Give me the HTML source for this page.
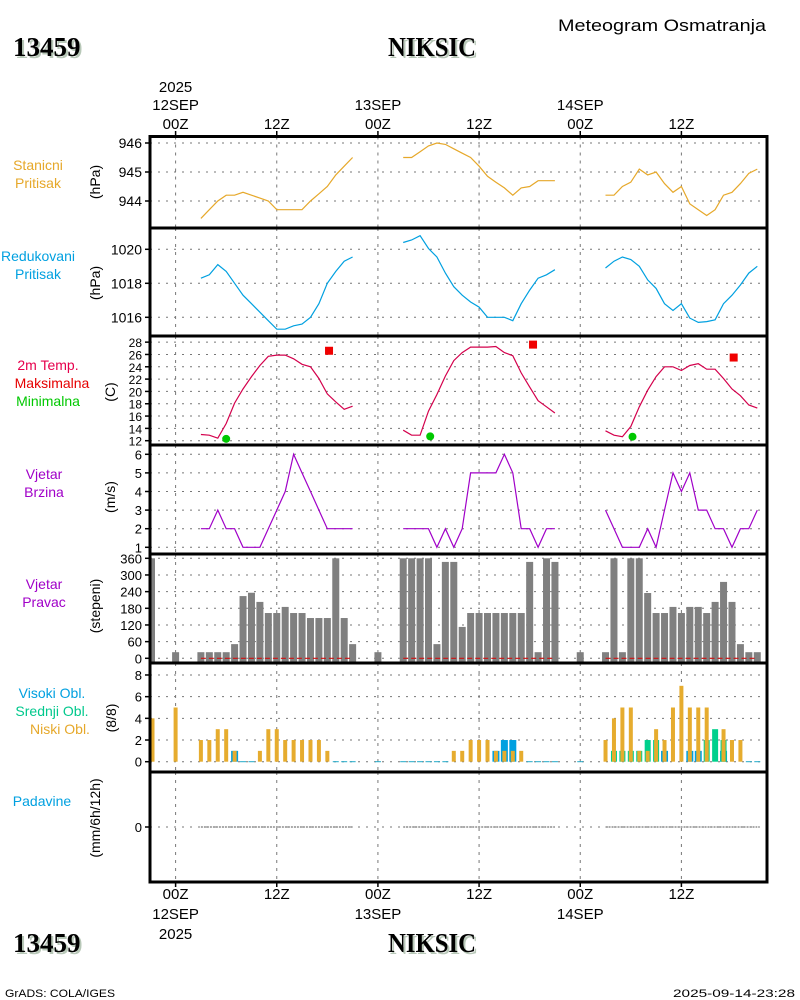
<!DOCTYPE html>
<html><head><meta charset="utf-8"><style>
html,body{margin:0;padding:0;background:#fff;width:800px;height:1000px;overflow:hidden}
svg{display:block}
text{font-family:"Liberation Sans",sans-serif}
</style></head><body>
<svg id="chart" width="800" height="1000" viewBox="0 0 800 1000" xmlns="http://www.w3.org/2000/svg">
<g id="static">
<text x="766" y="31" font-size="17" text-anchor="end" textLength="208" lengthAdjust="spacingAndGlyphs">Meteogram Osmatranja</text>
<text x="15" y="58" font-size="27" font-weight="bold" fill="#b8c8b8" style="font-family:'Liberation Serif',serif">13459</text>
<text x="13" y="56" font-size="27" font-weight="bold" style="font-family:'Liberation Serif',serif">13459</text>
<text x="434" y="58" font-size="27" font-weight="bold" fill="#b8c8b8" text-anchor="middle" style="font-family:'Liberation Serif',serif" textLength="88" lengthAdjust="spacingAndGlyphs">NIKSIC</text>
<text x="432" y="56" font-size="27" font-weight="bold" text-anchor="middle" style="font-family:'Liberation Serif',serif" textLength="88" lengthAdjust="spacingAndGlyphs">NIKSIC</text>
<text x="15" y="954" font-size="27" font-weight="bold" fill="#b8c8b8" style="font-family:'Liberation Serif',serif">13459</text>
<text x="13" y="952" font-size="27" font-weight="bold" style="font-family:'Liberation Serif',serif">13459</text>
<text x="434" y="954" font-size="27" font-weight="bold" fill="#b8c8b8" text-anchor="middle" style="font-family:'Liberation Serif',serif" textLength="88" lengthAdjust="spacingAndGlyphs">NIKSIC</text>
<text x="432" y="952" font-size="27" font-weight="bold" text-anchor="middle" style="font-family:'Liberation Serif',serif" textLength="88" lengthAdjust="spacingAndGlyphs">NIKSIC</text>
<text x="5" y="997" font-size="11" textLength="110" lengthAdjust="spacingAndGlyphs">GrADS: COLA/IGES</text>
<text x="795" y="997" font-size="11" text-anchor="end" textLength="122" lengthAdjust="spacingAndGlyphs">2025-09-14-23:28</text>
<g font-size="14" text-anchor="middle">
<text x="38" y="170" fill="#e6a82a">Stanicni</text>
<text x="38" y="188" fill="#e6a82a">Pritisak</text>
<text x="38" y="261" fill="#00a0e0">Redukovani</text>
<text x="38" y="279" fill="#00a0e0">Pritisak</text>
<text x="48" y="370" fill="#e6004c">2m Temp.</text>
<text x="52" y="388" fill="#e60000">Maksimalna</text>
<text x="48" y="406" fill="#00c800">Minimalna</text>
<text x="44" y="479" fill="#a000c8">Vjetar</text>
<text x="44" y="497" fill="#a000c8">Brzina</text>
<text x="44" y="589" fill="#a000c8">Vjetar</text>
<text x="44" y="607" fill="#a000c8">Pravac</text>
<text x="52" y="698" fill="#00a0e0">Visoki Obl.</text>
<text x="52" y="716" fill="#00c88c">Srednji Obl.</text>
<text x="60" y="734" fill="#e6a82a">Niski Obl.</text>
<text x="42" y="806" fill="#00a0e0">Padavine</text>
</g>
<g font-size="14" text-anchor="middle">
<text transform="translate(100,182) rotate(-90)">(hPa)</text>
<text transform="translate(100,283) rotate(-90)">(hPa)</text>
<text transform="translate(115,392) rotate(-90)">(C)</text>
<text transform="translate(115,497) rotate(-90)">(m/s)</text>
<text transform="translate(100,606) rotate(-90)">(stepeni)</text>
<text transform="translate(116,718) rotate(-90)">(8/8)</text>
<text transform="translate(100,818) rotate(-90)">(mm/6h/12h)</text>
</g>
</g>
<g id="grid"></g>
<g id="marks"></g>
<g id="axes"></g>
</svg>
<script>
// hours from 2025-09-12 00Z
const timeTicks = [0, 12, 24, 36, 48, 60];
const timeTopLabels = [["2025","12SEP","00Z"],["","","12Z"],["","13SEP","00Z"],["","","12Z"],["","14SEP","00Z"],["","","12Z"]];
const timeBottomLabels = [["00Z","12SEP","2025"],["12Z","",""],["00Z","13SEP",""],["12Z","",""],["00Z","14SEP",""],["12Z","",""]];
const segStarts = [3, 27, 51];
const segLength = 19;
const stnPres1 = [943.4,943.7,944.0,944.2,944.2,944.3,944.2,944.1,944.0,943.7,943.7,943.7,943.7,944.0,944.25,944.5,944.9,945.2,945.5];
const stnPres2 = [945.5,945.5,945.7,945.9,946.0,945.95,945.8,945.65,945.5,945.2,944.85,944.65,944.45,944.2,944.45,944.5,944.7,944.7,944.7];
const stnPres3 = [944.2,944.2,944.5,944.65,945.1,944.9,945.0,944.6,944.3,944.5,943.9,943.7,943.5,943.7,944.2,944.3,944.6,944.95,945.1];
const redPres1 = [1018.3,1018.5,1019.1,1018.7,1018.0,1017.3,1016.8,1016.3,1015.8,1015.3,1015.3,1015.5,1015.6,1016.0,1016.8,1018.0,1018.7,1019.3,1019.55];
const redPres2 = [1020.4,1020.55,1020.8,1020.05,1019.55,1018.6,1017.8,1017.3,1016.9,1016.6,1016.0,1016.0,1016.0,1015.8,1016.8,1017.6,1018.3,1018.5,1018.8];
const redPres3 = [1018.9,1019.3,1019.55,1019.4,1019.0,1018.2,1017.7,1016.8,1016.4,1016.8,1015.95,1015.7,1015.75,1015.85,1016.8,1017.3,1017.9,1018.6,1019.0];
const temp1 = [13.0,12.9,12.4,14.8,18.1,20.4,22.4,24.2,25.7,25.9,25.9,25.3,24.4,24.0,22.1,19.6,18.3,17.1,17.6];
const temp2 = [13.7,12.9,12.9,16.8,19.5,22.5,25.0,26.3,27.2,27.2,27.2,27.3,26.3,25.8,23.0,20.7,18.5,17.5,16.5];
const temp3 = [13.6,12.9,12.65,14.3,17.5,20.2,22.4,24.0,24.0,23.4,24.2,24.5,23.6,23.6,22.1,20.4,19.3,17.8,17.3];
const tmaxHours = [18.2, 42.4, 66.2];
const tmaxValues = [26.6, 27.6, 25.5];
const tminHours = [6, 30.2, 54.2];
const tminValues = [12.3, 12.7, 12.65];
const wspd1 = [2,2,3,2,2,1,1,1,2,3,4,6,5,4,3,2,2,2,2];
const wspd2 = [2,2,2,2,1,2,1,2,5,5,5,5,6,5,2,2,1,2,2];
const wspd3 = [3,2,1,1,1,2,1,3,5,4,5,3,3,2,2,1,2,2,3];
const wdirHours = [-3,0,3,4,5,6,7,8,9,10,11,12,13,14,15,16,17,18,19,20,21,24,27,28,29,30,31,32,33,34,35,36,37,38,39,40,41,42,43,44,45,48,51,52,53,54,55,56,57,58,59,60,61,62,63,64,65,66,67,68,69];
const wdirValues = [360,22,22,22,22,22,51,224,236,203,163,163,185,163,163,145,145,145,360,145,51,22,360,360,360,360,51,347,347,113,163,163,163,163,163,163,163,347,22,360,347,22,22,360,22,360,360,235,163,163,185,163,185,185,163,203,275,203,51,22,22];
const cloudHours = [-3,0,3,4,5,6,7,8,9,10,11,12,13,14,15,16,17,18,19,20,21,24,27,28,29,30,31,32,33,34,35,36,37,38,39,40,41,42,43,44,45,48,51,52,53,54,55,56,57,58,59,60,61,62,63,64,65,66,67,68,69];
const cloudLow  = [4,5,2,2,3,3,1,0,0,1,3,3,2,2,2,2,2,1,0,0,0,0,0,0,0,0,0,0,1,1,2,2,2,1,1,1,1,0,0,0,0,0,2,4,5,5,1,1,3,2,5,7,5,5,5,0,3,2,2,0,0];
const cloudMid  = [0,0,0,0,0,0,0,0,0,0,0,0,0,0,0,0,0,0,0,0,0,0,0,0,0,0,0,0,0,0,0,0,0,0,0,0,0,0,0,0,0,0,0,1,1,1,1,2,2,0,0,0,0,0,2,3,2,0,0,0,0];
const cloudHigh = [0,0,0,0,0,0,1,0,0,0,0,0,0,0,0,0,0,0,0,0,0,0,0,0,0,0,0,0,0,0,0,0,0,1,2,2,0,0,0,0,0,0,0,0,0,0,0,0,0,1,0,0,1,1,0,0,1,0,0,0,0];
const precipValues = [0,0,0];

const NS = "http://www.w3.org/2000/svg";
const L = 150, R = 767;
function X(h){ return 175.6 + h * 8.43; }
function mk(parent, tag, attrs){ const e = document.createElementNS(NS, tag); for (const k in attrs) e.setAttribute(k, attrs[k]); parent.appendChild(e); return e; }
const grid = document.getElementById('grid'), marks = document.getElementById('marks'), axes = document.getElementById('axes');

const panels = [
  {top:136.5, bot:228, y:v=>143+(946-v)*29, ticks:[946,945,944], fs:14},
  {top:228, bot:336, y:v=>249.3+(1020-v)*17, ticks:[1020,1018,1016], fs:14},
  {top:336, bot:445, y:v=>440.7-(v-12)*6.16, ticks:[28,26,24,22,20,18,16,14,12], fs:12},
  {top:445, bot:554, y:v=>547.3-(v-1)*18.6, ticks:[6,5,4,3,2,1], fs:13},
  {top:554, bot:663, y:v=>658.3-v*100/360, ticks:[360,300,240,180,120,60,0], fs:13},
  {top:663, bot:772, y:v=>761.7-v*10.84, ticks:[8,6,4,2,0], fs:13},
  {top:772, bot:882, y:v=>827-v*20, ticks:[0], fs:13}
];
const panelNames = ['station-pressure','reduced-pressure','temperature','wind-speed','wind-direction','cloud-cover','precipitation'];

panels.forEach((p, i) => {
  p.ticks.forEach(t => {
    const yy = p.y(t);
    const g = mk(grid, 'line', {x1:L, x2:R, y1:yy, y2:yy, stroke:'#777', 'stroke-width':1, 'stroke-dasharray':'2,6'});
    
    
    const tk = mk(axes, 'line', {x1:L-5, x2:L, y1:yy, y2:yy, stroke:'#000', 'stroke-width':1.5});
    
    
    const tx = mk(axes, 'text', {x:L-8, y:yy+5, 'font-size':p.fs, 'text-anchor':'end'});
    tx.textContent = t;
    
    
  });
  timeTicks.forEach(h => {
    const v = mk(grid, 'line', {x1:X(h), x2:X(h), y1:p.top, y2:p.bot, stroke:'#777', 'stroke-width':1, 'stroke-dasharray':'3,5'});
    
    
  });
});

function drawLine(arrs, pi, color, name){
  arrs.forEach((arr, s) => {
    const pts = arr.map((v, k) => X(segStarts[s] + k).toFixed(1) + ',' + panels[pi].y(v).toFixed(1)).join(' ');
    const pl = mk(marks, 'polyline', {points:pts, fill:'none', stroke:color, 'stroke-width':1.2});
    
    
  });
}
drawLine([stnPres1, stnPres2, stnPres3], 0, '#e6a82a', 'station-pressure');
drawLine([redPres1, redPres2, redPres3], 1, '#00a0e0', 'reduced-pressure');
drawLine([temp1, temp2, temp3], 2, '#d4004c', 'temperature');
drawLine([wspd1, wspd2, wspd3], 3, '#a000c8', 'wind-speed');

tmaxHours.forEach((h, i) => {
  const r = mk(marks, 'rect', {x:X(h)-4, y:panels[2].y(tmaxValues[i])-4, width:8, height:8, fill:'#f00000'});
  
  
});
tminHours.forEach((h, i) => {
  const c = mk(marks, 'circle', {cx:X(h), cy:panels[2].y(tminValues[i]), r:4, fill:'#00c800'});
  
  
});

wdirHours.forEach((h, i) => {
  const y0 = panels[4].y(0), y1 = panels[4].y(wdirValues[i]);
  const x0 = Math.max(L + 1.5, X(h) - 3.5), x1 = Math.min(R, Math.max(X(h) + 3.5, L + 5));
  const r = mk(marks, 'rect', {x:x0, y:y1, width:x1 - x0, height:y0 - y1 + 5, fill:'#808080'});
  
  
});
segStarts.forEach((s) => {
  const yy = panels[4].y(0);
  const l = mk(marks, 'line', {x1:X(s), x2:X(s+segLength-1), y1:yy, y2:yy, stroke:'#d01010', 'stroke-width':1.2, 'stroke-dasharray':'5,3'});
  
  
});

cloudHours.forEach((h, i) => {
  const y0 = panels[5].y(0);
  const layers = [[cloudHigh[i], '#00a0e0', 3.5, 'cloud-high-bar'], [cloudMid[i], '#00d08c', 3, 'cloud-mid-bar'], [cloudLow[i], '#e6ac2e', 2, 'cloud-low-bar']];
  layers.forEach(([v, col, hw, nm]) => {
    if (v > 0) {
      const x0 = Math.max(L + 1.5, X(h) - hw);
      const x1 = Math.max(X(h) + hw, L + 4.5);
      const r = mk(marks, 'rect', {x:x0, y:panels[5].y(v), width:x1 - x0, height:y0 - panels[5].y(v), fill:col});
      
      
    }
  });
  if (cloudLow[i] === 0 && cloudMid[i] === 0 && cloudHigh[i] === 0) {
    const z = mk(marks, 'line', {x1:X(h)-3, x2:X(h)+3, y1:y0, y2:y0, stroke:'#20a8c8', 'stroke-width':1});
    
    
  }
});

segStarts.forEach((s, i) => {
  const yy = panels[6].y(precipValues[i]);
  const l = mk(marks, 'line', {x1:X(s), x2:X(s+segLength-1), y1:yy, y2:yy, stroke:'#555', 'stroke-width':1, 'stroke-dasharray':'2,1'});
  
  
});

const frame = mk(axes, 'rect', {x:L, y:136.5, width:R-L, height:882-136.5, fill:'none', stroke:'#000', 'stroke-width':3});


panels.slice(1).forEach((p) => {
  const l = mk(axes, 'line', {x1:L, x2:R, y1:p.top, y2:p.top, stroke:'#000', 'stroke-width':3});
  
  
});

timeTicks.forEach((h, i) => {
  const t1 = mk(axes, 'line', {x1:X(h), x2:X(h), y1:131, y2:136, stroke:'#000', 'stroke-width':1.5});
  
  
  const t2 = mk(axes, 'line', {x1:X(h), x2:X(h), y1:882, y2:887, stroke:'#000', 'stroke-width':1.5});
  
  
  const tops = timeTopLabels[i], ty = [92, 110, 129];
  tops.forEach((s, k) => { if (s) {
    const tx = mk(axes, 'text', {x:X(h), y:ty[k], 'font-size':15, 'text-anchor':'middle'});
    tx.textContent = s;
    
    
  }});
  const bots = timeBottomLabels[i], by = [899, 919, 939];
  bots.forEach((s, k) => { if (s) {
    const tx = mk(axes, 'text', {x:X(h), y:by[k], 'font-size':15, 'text-anchor':'middle'});
    tx.textContent = s;
    
    
  }});
});
</script>
</body></html>
